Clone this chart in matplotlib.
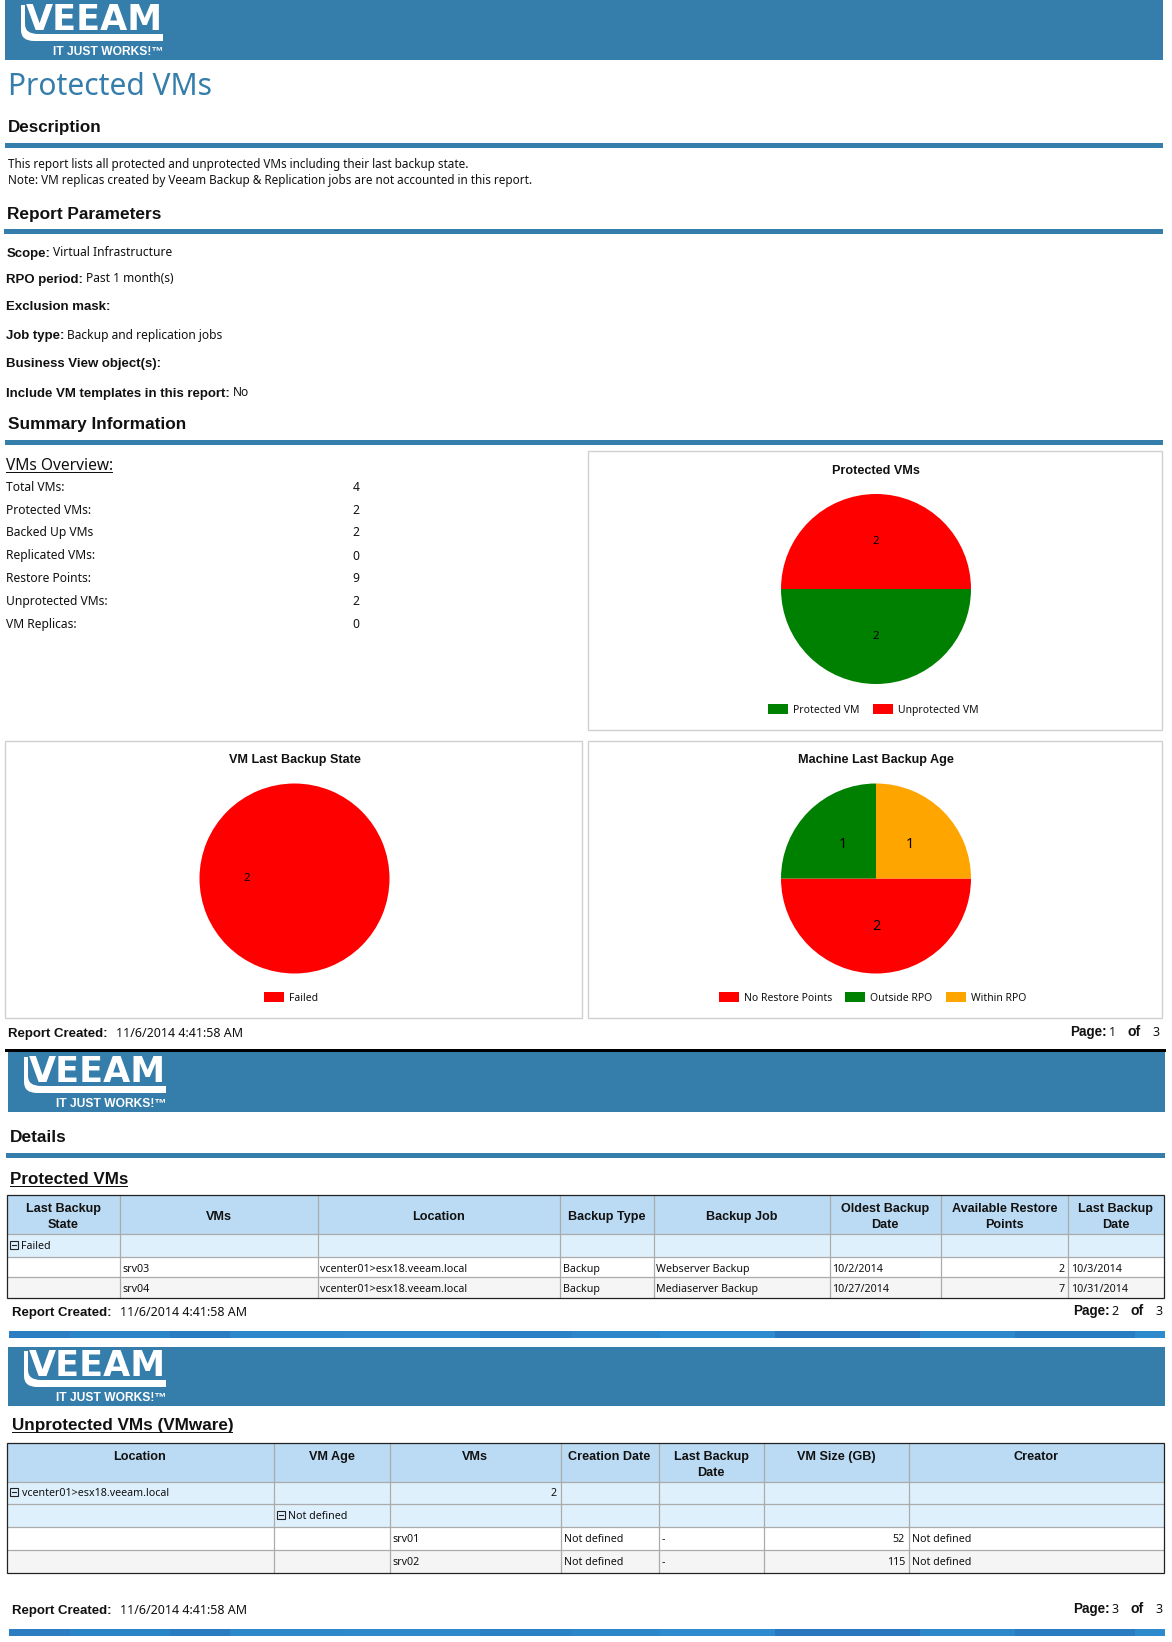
import matplotlib
matplotlib.use("Agg")
import matplotlib.pyplot as plt
from matplotlib.patches import Rectangle, PathPatch
from matplotlib.path import Path

W, H = 1172, 1642
BLUE = '#357DAB'
FONT = 'Noto Sans'
BOLD = 'Liberation Sans'

# report text
description_lines = [
    "This report lists all protected and unprotected VMs including their last backup state.",
    "Note: VM replicas created by Veeam Backup & Replication jobs are not accounted in this report.",
]
param_names = ["Scope:", "RPO period:", "Exclusion mask:", "Job type:", "Business View object(s):",
               "Include VM templates in this report:"]
param_values = ["Virtual Infrastructure", "Past 1 month(s)", "", "Backup and replication jobs", "", "No"]
overview_names = ["Total VMs:", "Protected VMs:", "Backed Up VMs", "Replicated VMs:", "Restore Points:",
                  "Unprotected VMs:", "VM Replicas:"]
overview_values = [4, 2, 2, 0, 9, 2, 0]

# pie data
protected_labels = ["Protected VM", "Unprotected VM"]
protected_values = [2, 2]
protected_colors = ['#008000', '#FF0000']
state_labels = ["Failed"]
state_values = [2]
state_colors = ['#FF0000']
age_labels = ["No Restore Points", "Outside RPO", "Within RPO"]
age_values = [2, 1, 1]
age_colors = ['#FF0000', '#008000', '#FFA500']

# tables
t1_header = ["Last Backup\nState", "VMs", "Location", "Backup Type", "Backup Job", "Oldest Backup\nDate",
             "Available Restore\nPoints", "Last Backup\nDate"]
t1_group = "Failed"
t1_row1 = ["", "srv03", "vcenter01>esx18.veeam.local", "Backup", "Webserver Backup", "10/2/2014", "2", "10/3/2014"]
t1_row2 = ["", "srv04", "vcenter01>esx18.veeam.local", "Backup", "Mediaserver Backup", "10/27/2014", "7", "10/31/2014"]
t2_header = ["Location", "VM Age", "VMs", "Creation Date", "Last Backup\nDate", "VM Size (GB)", "Creator"]
t2_group1 = "vcenter01>esx18.veeam.local"
t2_group1_count = "2"
t2_group2 = "Not defined"
t2_row1 = ["", "", "srv01", "Not defined", "-", "52", "Not defined"]
t2_row2 = ["", "", "srv02", "Not defined", "-", "115", "Not defined"]
created = "11/6/2014 4:41:58 AM"

fig = plt.figure(figsize=(W / 100, H / 100), dpi=100)
page = fig.add_axes([0, 0, 1, 1])
page.set_xlim(0, W)
page.set_ylim(H, 0)
page.axis('off')


def put(x, y, s, px=11.7, weight='normal', ha='left', color='#111111', family=None, underline=False):
    if family is None:
        family = BOLD if weight == 'bold' else FONT
    t = page.text(x, y, s, fontsize=px * 0.72, fontweight=weight, ha=ha, va='baseline', color=color,
                  family=family, zorder=5)
    if underline:
        box = t.get_window_extent(fig.canvas.get_renderer())
        rect(x, y + 2, box.width, 1.2, color)
    return t


def rect(x, y, w, h, color, z=1):
    page.add_patch(Rectangle((x, y), w, h, facecolor=color, edgecolor='none', zorder=z))


def logo(x0, y0):
    # swoosh under the wordmark, then the wordmark itself
    verts = [(x0, y0), (x0, y0 + 25), (x0, y0 + 36), (x0 + 13, y0 + 36), (x0 + 142, y0 + 36), (x0 + 142, y0 + 29),
             (x0 + 17, y0 + 29), (x0 + 4, y0 + 29), (x0 + 4, y0 + 19), (x0 + 4, y0), (x0, y0)]
    codes = [Path.MOVETO, Path.LINETO, Path.CURVE3, Path.CURVE3, Path.LINETO, Path.LINETO,
             Path.LINETO, Path.CURVE3, Path.CURVE3, Path.LINETO, Path.CLOSEPOLY]
    page.add_patch(PathPatch(Path(verts, codes), facecolor='white', edgecolor='none', zorder=3))
    put(x0 + 5, y0 + 25, "VEEAM", px=35, weight='bold', color='white', family='DejaVu Sans')
    put(x0 + 142, y0 + 50, "IT JUST WORKS!\u2122", px=12, weight='bold', ha='right', color='white')


def footer(x_created, y_created, y_page, page_no, x_date, dx=0):
    put(x_created, y_created, "Report Created:", px=13.2, weight='bold')
    put(x_date, y_created, created, px=12.5)
    put(1073 + dx, y_page, "Page:", px=13.5, weight='bold')
    put(1111.5 + dx, y_page, str(page_no), px=12.5)
    put(1130.5 + dx, y_page, "of", px=14, weight='bold')
    put(1155.5 + dx, y_page, "3", px=12.5)


def strip(y):
    # page separator band, a few shades of blue
    breaks = [9, 70, 170, 230, 345, 480, 572, 660, 775, 920, 1015, 1135, 1165]
    shades = ['#2C7DC2', '#2A84C8', '#2A7CC2', '#2C88CB', '#2E8ACD', '#2A81C6', '#2B86CA',
              '#2E8BCF', '#2978BF', '#2D87CB', '#2A7CC2', '#2D8ACD']
    for a, b, c in zip(breaks[:-1], breaks[1:], shades):
        rect(a, y, b - a, 6.7, c)


def draw_pie(cx, cy, r, values, colors, label_px):
    ax = fig.add_axes([(cx - r) / W, 1 - (cy + r) / H, 2 * r / W, 2 * r / H])
    total = sum(values)
    ax.pie(values, colors=colors, startangle=0, counterclock=False, radius=1,
           autopct=lambda p: str(int(round(p * total / 100))), pctdistance=0.5,
           wedgeprops={'linewidth': 0},
           textprops={'fontsize': label_px * 0.72, 'family': FONT, 'color': 'black'})
    ax.set_xlim(-1, 1)
    ax.set_ylim(-1, 1)


def panel(x0, x1, y0, y1, title, values, colors, labels, swatch_x, label_x, cx, label_px=11.5):
    page.add_patch(Rectangle((x0, y0), x1 - x0, y1 - y0, facecolor='white', edgecolor='#D0D0D0',
                             lw=1.0, zorder=2))
    put(cx, y0 + 22, title, px=12.6, weight='bold', ha='center')
    draw_pie(cx, y0 + 137.5, 95, values, colors, label_px)
    ly = y1 - 21.5
    for sx, tx, lab, c in zip(swatch_x, label_x, labels, colors):
        rect(sx, ly - 5, 20, 10, c, z=3)
        put(tx, ly + 4, lab, px=10.4)


def table(edges, rows, fills):
    left, right = edges[0], edges[-1]
    for y0, y1, c in zip(rows[:-1], rows[1:], fills):
        rect(left, y0, right - left, y1 - y0, c)
    for y in rows[1:-1]:
        page.plot([left, right], [y, y], color='#ABABAB', lw=0.9, zorder=2, solid_capstyle='butt')
    for x in edges[1:-1]:
        page.plot([x, x], [rows[0], rows[-1]], color='#ABABAB', lw=0.9, zorder=2, solid_capstyle='butt')
    page.add_patch(Rectangle((left, rows[0]), right - left, rows[-1] - rows[0], facecolor='none',
                             edgecolor='#222222', lw=0.9, zorder=4))


def header_cells(edges, labels, y_one, y_two):
    for a, b, lab in zip(edges[:-1], edges[1:], labels):
        mid = (a + b) / 2
        parts = lab.split("\n")
        if len(parts) == 2:
            for y, part in zip([y_one, y_two], parts):
                put(mid, y, part, px=12.6, weight='bold', ha='center')
        else:
            put(mid, (y_one + y_two) / 2, lab, px=12.6, weight='bold', ha='center')


def row_cells(edges, cells, y, right_cols):
    for i, s in enumerate(cells):
        if i in right_cols:
            put(edges[i + 1] - 3.5, y, s, px=10.7, ha='right')
        else:
            put(edges[i] + 3, y, s, px=10.7)


def expander(x, y):
    page.add_patch(Rectangle((x, y), 8, 8, facecolor='none', edgecolor='#222222', lw=0.8, zorder=5))
    page.plot([x + 2, x + 6], [y + 4, y + 4], color='#222222', lw=0.8, zorder=5)


# page 1
rect(5, 0, 1158, 60, BLUE)
logo(21, 5)
put(8, 95, "Protected VMs", px=30, color=BLUE)

put(8, 132, "Description", px=17, weight='bold')
rect(5, 143, 1158, 5, BLUE)
put(8, 168, description_lines[0])
put(8, 184, description_lines[1])

put(7, 219, "Report Parameters", px=17.2, weight='bold')
rect(4, 229, 1159, 5, BLUE)
param_y = [256.5, 282.5, 310.5, 338.5, 366.5, 396.5]
for y, name, val in zip(param_y, param_names, param_values):
    t = put(6.5, y, name, px=13.3, weight='bold')
    if val:
        w = t.get_window_extent(fig.canvas.get_renderer()).width
        put(6.5 + w + 2.5, y, val, px=12)

put(8, 428.5, "Summary Information", px=17.2, weight='bold')
rect(5, 440.5, 1158, 4.5, BLUE)

put(6, 470, "VMs Overview:", px=15.5, underline=True)
overview_y = [491, 514, 536, 559.5, 582.5, 604.7, 627.7]
for y, name, val in zip(overview_y, overview_names, overview_values):
    put(5.5, y, name, px=12.1)
    put(356, y, str(val), px=12.1, ha='center')

panel(587.5, 1161.5, 451.5, 730.5, "Protected VMs", protected_values, protected_colors, protected_labels,
      [768, 873], [793, 898], 876)
panel(5, 581.5, 741, 1018.5, "VM Last Backup State", state_values, state_colors, state_labels, [264], [289], 294.5)
panel(587.5, 1161.5, 741, 1018.5, "Machine Last Backup Age", age_values, age_colors, age_labels,
      [719, 845, 945.5], [744, 870, 971], 876, label_px=14.5)

footer(8.5, 1037, 1036, 1, 116, dx=-3)

# page 2
rect(5, 1049, 1161, 3, 'black', z=2)
rect(8, 1052, 1157, 60, BLUE)
logo(24, 1057)
put(9.5, 1142, "Details", px=17.2, weight='bold')
rect(6, 1153, 1159, 5, BLUE)
put(9.5, 1184, "Protected VMs", px=17, weight='bold', underline=True)

t1_edges = [6.5, 119.5, 317.5, 559.5, 653.5, 829.5, 940.5, 1068, 1164]
t1_rows = [1195.5, 1234.5, 1257.5, 1277.5, 1298.5]
table(t1_edges, t1_rows, ['#BBDAF3', '#DFF0FD', 'white', '#F5F5F5'])
header_cells(t1_edges, t1_header, 1212, 1228)
expander(10, 1241)
put(21, 1249, t1_group, px=10.7)
row_cells(t1_edges, t1_row1, 1272, [6])
row_cells(t1_edges, t1_row2, 1292, [6])
footer(12.5, 1316, 1315, 2, 120)
strip(1331)

# page 3
rect(8, 1347, 1157, 59, BLUE)
logo(24, 1351)
put(11.5, 1430, "Unprotected VMs (VMware)", px=17.1, weight='bold', underline=True)

t2_edges = [6.5, 273.5, 389.5, 560.5, 658.5, 763.5, 908.5, 1164]
t2_rows = [1443.5, 1482.5, 1504.5, 1527.5, 1550.5, 1573.5]
table(t2_edges, t2_rows, ['#BBDAF3', '#DFF0FD', '#DFF0FD', 'white', '#F5F5F5'])
for a, b, lab in zip(t2_edges[:-1], t2_edges[1:], t2_header):
    for y, part in zip([1460, 1476], lab.split("\n")):
        put((a + b) / 2, y, part, px=12.6, weight='bold', ha='center')
expander(10, 1488)
put(21.5, 1496, t2_group1, px=10.7)
put(556.5, 1496, t2_group1_count, px=10.7, ha='right')
expander(277, 1511)
put(288, 1519, t2_group2, px=10.7)
row_cells(t2_edges, t2_row1, 1542, [5])
row_cells(t2_edges, t2_row2, 1565, [5])
footer(12.5, 1614, 1613, 3, 120)
strip(1629)

fig.savefig("out.png", dpi=100, facecolor='white')
